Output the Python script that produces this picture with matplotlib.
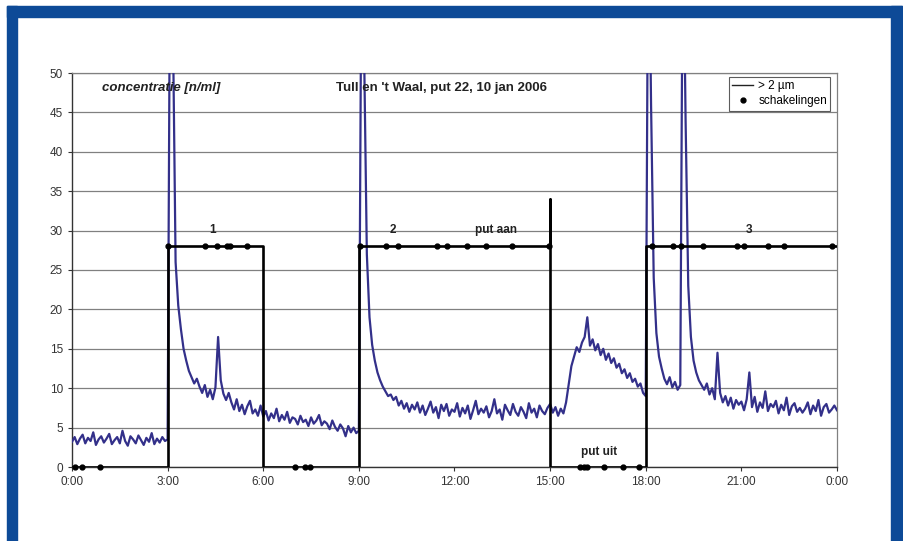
import numpy as np
import matplotlib
matplotlib.use('Agg')
import matplotlib.pyplot as plt
from matplotlib.lines import Line2D
from matplotlib.patches import Rectangle

plt.rcParams['font.family'] = ['Liberation Sans', 'DejaVu Sans']

# particle concentration > 2 um, one reading every 5 minutes (0:00 .. 24:00)
concentration = [
    3.2, 3.8, 2.9, 3.6, 4.1, 3.0, 3.7, 3.3, 4.4, 2.8, 3.5, 3.9,         # 0:00
    3.1, 3.6, 4.2, 2.9, 3.4, 3.8, 3.0, 4.6, 3.3, 2.7, 3.9, 3.5,         # 1:00
    3.0, 4.0, 3.4, 2.8, 3.7, 3.2, 4.3, 2.9, 3.6, 3.1, 3.8, 3.3,         # 2:00
    3.5, 72.0, 56.0, 26.0, 20.5, 17.5, 15.0, 13.5, 12.2, 11.4, 10.6, 11.2,  # 3:00
    10.2, 9.4, 10.4, 8.9, 9.8, 8.6, 10.1, 16.5, 11.0, 9.3, 8.5, 9.4,    # 4:00
    8.2, 7.3, 8.6, 7.1, 7.9, 6.7, 7.7, 8.4, 6.8, 7.3, 6.5, 7.8,         # 5:00
    6.4, 7.1, 5.9, 6.8, 6.2, 7.4, 5.8, 6.6, 6.0, 7.0, 5.6, 6.3,         # 6:00
    6.1, 5.4, 6.5, 5.7, 6.0, 5.2, 6.3, 5.5, 5.9, 6.6, 5.3, 5.8,         # 7:00
    5.5, 4.8, 5.9, 5.1, 4.6, 5.4, 4.9, 3.9, 5.2, 4.4, 5.0, 4.3,         # 8:00
    4.6, 68.0, 52.0, 27.0, 19.0, 15.5, 13.5, 12.0, 11.0, 10.2, 9.6, 9.0,  # 9:00
    9.2, 8.5, 8.9, 7.8, 8.4, 7.4, 8.1, 7.0, 7.9, 7.3, 8.2, 6.9,         # 10:00
    7.8, 6.6, 7.4, 8.3, 6.9, 7.6, 6.2, 7.9, 7.1, 8.0, 6.5, 7.3,         # 11:00
    7.0, 8.1, 6.4, 7.5, 6.8, 7.8, 6.1, 7.2, 8.4, 6.7, 7.4, 6.9,         # 12:00
    7.7, 6.3, 7.1, 8.6, 6.8, 7.3, 6.0, 7.9, 7.2, 6.6, 8.0, 7.0,         # 13:00
    6.5, 7.6, 7.0, 6.2, 8.1, 6.9, 7.4, 6.3, 7.8, 7.1, 6.7, 7.5,         # 14:00
    8.0, 6.9, 7.6, 6.5, 7.4, 6.8, 8.2, 10.5, 12.8, 14.0, 15.2, 14.6,    # 15:00
    15.8, 16.5, 19.0, 15.4, 16.2, 14.8, 15.6, 14.2, 15.0, 13.6, 14.4, 13.2,  # 16:00
    13.8, 12.6, 13.1, 11.9, 12.4, 11.3, 11.9, 10.8, 11.2, 10.2, 10.6, 9.4,   # 17:00
    9.0, 75.0, 46.0, 24.0, 17.0, 14.0, 12.5, 11.2, 10.5, 11.4, 10.1, 10.8,  # 18:00
    9.8, 10.4, 72.0, 44.0, 23.0, 16.5, 13.5, 12.0, 11.0, 10.4, 9.8, 10.6,   # 19:00
    9.2, 10.0, 8.6, 14.5, 9.4, 8.2, 9.0, 7.8, 8.8, 7.4, 8.5, 7.9,       # 20:00
    8.3, 7.2, 8.6, 12.0, 7.6, 8.9, 7.0, 8.2, 7.5, 9.6, 7.1, 8.0,        # 21:00
    7.6, 8.4, 6.8, 7.9, 7.2, 8.8, 6.6, 7.7, 8.1, 7.0, 7.5, 6.9,         # 22:00
    7.4, 8.2, 6.7, 7.8, 7.1, 8.5, 6.5, 7.6, 8.0, 6.9, 7.3, 7.8,         # 23:00
    7.2,
]

# pump switching line (hours, level)
switch_times = [0, 3, 3, 6, 6, 9, 9, 15, 15, 15, 18, 18, 24]
switch_levels = [0, 0, 28, 28, 0, 0, 28, 28, 34, 0, 0, 28, 28]

# individual switching events on the "on" and "off" level
events_on = [3.0, 4.17, 4.54, 4.86, 4.95, 5.49,
             9.05, 9.84, 10.22, 11.44, 11.76, 12.4, 13.0, 13.8, 14.95,
             18.2, 18.85, 19.1, 19.8, 20.85, 21.07, 21.85, 22.35, 23.85]
events_off = [0.09, 0.31, 0.88, 7.0, 7.3, 7.46,
              15.95, 16.05, 16.15, 16.7, 17.3, 17.8]

hour_ticks = [0, 3, 6, 9, 12, 15, 18, 21, 24]
hour_labels = ['0:00', '3:00', '6:00', '9:00', '12:00', '15:00', '18:00', '21:00', '0:00']

line_color = '#33308a'
border_color = '#0d4a97'


def draw_chart(fig):
    ax = fig.add_axes([72/904, 1 - 467/541, (837 - 72)/904, (467 - 73)/541])

    t = np.arange(len(concentration)) * 5 / 60.0
    ax.plot(t, concentration, color=line_color, lw=1.6, zorder=3)

    # switching line and events
    ax.plot(switch_times, switch_levels, color='black', lw=1.9, zorder=4)
    ax.plot(events_on, [28] * len(events_on), 'o', color='black', ms=3.5, zorder=5)
    ax.plot(events_off, [0] * len(events_off), 'o', color='black', ms=3.5,
            zorder=5, clip_on=False)

    # labels on the switching line
    for x, y, s in [(4.42, 29.3, '1'), (10.06, 29.3, '2'), (13.3, 29.3, 'put aan'),
                    (21.25, 29.3, '3'), (16.55, 1.2, 'put uit')]:
        ax.text(x, y, s, fontsize=8.5, weight='bold', ha='center', va='bottom',
                color='#222222', zorder=6)

    ax.text(0.95, 48.1, 'concentratie [n/ml]', fontsize=9.5, weight='bold',
            style='italic', va='center', color='#222222')
    ax.text(8.28, 48.1, "Tull en 't Waal, put 22, 10 jan 2006", fontsize=9.5,
            weight='bold', va='center', color='#222222')

    ax.set_xlim(0, 24)
    ax.set_ylim(0, 50)
    ax.set_xticks(hour_ticks)
    ax.set_xticklabels(hour_labels)
    ax.set_yticks(range(0, 51, 5))
    ax.tick_params(labelsize=8.5, colors='#333333', length=3, width=0.8)

    ax.yaxis.grid(True, color='#808080', lw=0.9)
    ax.set_axisbelow(True)
    for side in ['left', 'bottom']:
        ax.spines[side].set_color('#333333')
        ax.spines[side].set_linewidth(1.0)
    for side in ['top', 'right']:
        ax.spines[side].set_color('#808080')
        ax.spines[side].set_linewidth(0.9)

    handles = [Line2D([], [], color='#222222', lw=1.0),
               Line2D([], [], color='black', marker='o', ms=3.5, ls='none')]
    leg = ax.legend(handles, ['> 2 µm', 'schakelingen'], loc='upper right',
                    bbox_to_anchor=(0.9915, 0.99), fontsize=8.5, frameon=True,
                    fancybox=False, borderpad=0.3, handlelength=1.8,
                    labelspacing=0.25, handletextpad=0.4, borderaxespad=0.0)
    leg.get_frame().set_edgecolor('#333333')
    leg.get_frame().set_linewidth(0.8)
    return ax


def main():
    fig = plt.figure(figsize=(9.04, 5.41), dpi=100)
    fig.patch.set_facecolor('white')

    # blue frame round the picture (open at the bottom)
    w, h = 904.0, 541.0
    fig.patches.append(Rectangle((7/w, 0), 10/w, 1 - 6/h, transform=fig.transFigure,
                                 color=border_color))
    fig.patches.append(Rectangle((7/w, 1 - 17/h), 895/w, 11/h, transform=fig.transFigure,
                                 color=border_color))
    fig.patches.append(Rectangle((891/w, 0), 11/w, 1 - 6/h, transform=fig.transFigure,
                                 color=border_color))

    draw_chart(fig)
    fig.savefig('out.png', dpi=100)


if __name__ == "__main__":
    main()
